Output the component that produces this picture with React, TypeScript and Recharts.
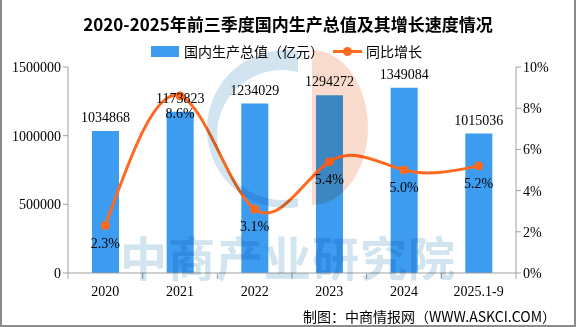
import {
  Bar,
  ComposedChart,
  LabelList,
  Line,
  XAxis,
  YAxis
} from "recharts";

const YEARS = ['2020', '2021', '2022', '2023', '2024', '2025.1-9']
const GDP = [1034868, 1173823, 1234029, 1294272, 1349084, 1015036]
const GROWTH = [2.3, 8.6, 3.1, 5.4, 5.0, 5.2]
const LEFT_TICKS = [0, 500000, 1000000, 1500000]
const RIGHT_TICKS = [0, 2, 4, 6, 8, 10]

const BLUE = '#3d9cf0'
const ORANGE = '#ff6a1f'
const AXIS = '#a0a0a0'
const NUM_FONT = "'Liberation Serif', serif"
const CJK_FONT = "'Noto Sans CJK SC', sans-serif"

const data = YEARS.map((name, i) => ({ name, gdp: GDP[i], growth: GROWTH[i] }))

// x-axis ticks sit on the category boundaries, not at the centers
function XTick(props: any) {
  const { x, y, payload, index } = props
  const half = payload?.offset ?? 37
  return (
    <g>
      <line x1={x - half} y1={y - 8} x2={x - half} y2={y - 2} stroke={AXIS} />
      {index === YEARS.length - 1 && (
        <line x1={x + half} y1={y - 8} x2={x + half} y2={y - 2} stroke={AXIS} />
      )}
      <text x={x} y={y + 15} textAnchor="middle" fontSize={14} fontFamily={NUM_FONT} fill="#000">
        {payload.value}
      </text>
    </g>
  )
}

function Watermark() {
  return (
    <svg width={576} height={327}
      style={{ position: 'absolute', left: 0, top: 0, pointerEvents: 'none', mixBlendMode: 'multiply' }}>
      <defs>
        <clipPath id="cleft">
          <rect x={0} y={0} width={298} height={327} />
        </clipPath>
      </defs>
      <path
        clipPath="url(#cleft)"
        fillRule="evenodd"
        fill="#d2e4ef"
        d="M207,129 a79,79 0 1,0 158,0 a79,79 0 1,0 -158,0 Z M217,135 a65,65 0 1,0 130,0 a65,65 0 1,0 -130,0 Z"
      />
      <path fill="#fadcce" d="M312,50 L312,205 A56,77.5 0 0,0 312,50 Z" />
      <text x={120} y={276} fontSize={47} fontWeight={700} fontFamily={CJK_FONT} fill="#d2e4ef" letterSpacing={1}>
        中商产业研究院
      </text>
    </svg>
  )
}

export default function App() {
  return (
    <div style={{ position: 'absolute', left: 0, top: 0, width: 576, height: 327, background: '#fff' }}>
      <ComposedChart
        width={576}
        height={327}
        data={data}
        margin={{ top: 67, right: 0, left: 0, bottom: 24 }}
        barCategoryGap={0}
      >
        <XAxis
          dataKey="name"
          height={30}
          stroke={AXIS}
          tickLine={false}
          tick={<XTick />}
          interval={0}
        />
        <YAxis
          yAxisId="l"
          width={68}
          domain={[0, 1500000]}
          ticks={LEFT_TICKS}
          stroke={AXIS}
          tickSize={5}
          tick={{ fill: '#000', fontSize: 14, fontFamily: NUM_FONT }}
        />
        <YAxis
          yAxisId="r"
          orientation="right"
          width={60}
          domain={[0, 10]}
          ticks={RIGHT_TICKS}
          tickFormatter={(v) => `${v}%`}
          stroke={AXIS}
          tickSize={5}
          tick={{ fill: '#000', fontSize: 14, fontFamily: NUM_FONT }}
        />
        <Bar yAxisId="l" dataKey="gdp" fill={BLUE} barSize={27} isAnimationActive={false}>
          <LabelList dataKey="gdp" position="top" offset={9} fill="#000" fontSize={14} fontFamily={NUM_FONT} />
        </Bar>
        <Line
          yAxisId="r"
          type="natural"
          dataKey="growth"
          stroke={ORANGE}
          strokeWidth={3}
          dot={{ r: 4, fill: ORANGE, stroke: ORANGE, strokeWidth: 1 }}
          isAnimationActive={false}
        >
          <LabelList
            dataKey="growth"
            position="bottom"
            offset={12}
            formatter={(v: any) => `${Number(v).toFixed(1)}%`}
            fill="#000"
            fontSize={14}
            fontFamily={NUM_FONT}
          />
        </Line>
      </ComposedChart>

      <Watermark />

      <div style={{
        position: 'absolute', left: 0, top: 13, width: 576, textAlign: 'center',
        fontFamily: CJK_FONT, fontWeight: 700, fontSize: 17, lineHeight: '22px', color: '#000'
      }}>
        2020-2025年前三季度国内生产总值及其增长速度情况
      </div>

      <div style={{ position: 'absolute', left: 151, top: 46, width: 28, height: 11, background: BLUE }} />
      <div style={{
        position: 'absolute', left: 184, top: 41, fontFamily: CJK_FONT, fontSize: 14, lineHeight: '20px', color: '#000'
      }}>
        国内生产总值（亿元）
      </div>
      <div style={{ position: 'absolute', left: 333, top: 50, width: 29, height: 3, background: ORANGE }} />
      <div style={{
        position: 'absolute', left: 343, top: 47, width: 9, height: 9, borderRadius: 5, background: ORANGE
      }} />
      <div style={{
        position: 'absolute', left: 366, top: 41, fontFamily: CJK_FONT, fontSize: 14, lineHeight: '20px', color: '#000'
      }}>
        同比增长
      </div>

      <div style={{
        position: 'absolute', left: 303, top: 306, fontFamily: CJK_FONT, fontSize: 14, lineHeight: '20px', color: '#000'
      }}>
        制图：中商情报网（WWW.ASKCI.COM）
      </div>

      <div style={{
        position: 'absolute', left: 0, top: 0, width: 576, height: 327, boxSizing: 'border-box',
        borderLeft: '2px solid #8c8c8c', borderRight: '2px solid #8c8c8c', borderBottom: '2px solid #8c8c8c',
        pointerEvents: 'none'
      }} />
    </div>
  )
}
